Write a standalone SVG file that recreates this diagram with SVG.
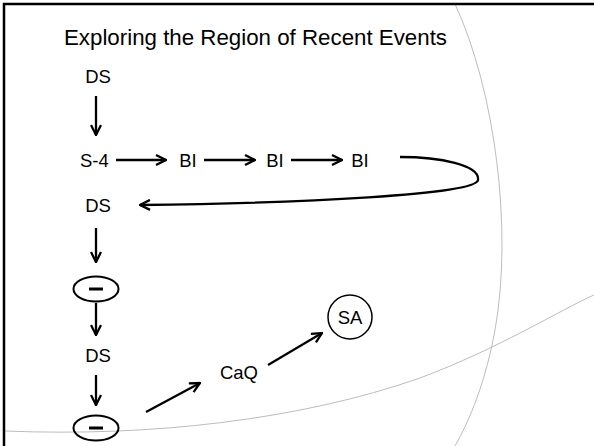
<svg xmlns="http://www.w3.org/2000/svg" width="594" height="446" viewBox="0 0 594 446">
<style>
.t{font-family:"Liberation Sans",Arial,sans-serif;fill:#000}
.n{font-size:18.5px}
.c{fill:none;stroke:#000;stroke-width:2.3}
.g{fill:none;stroke:#b4b4b4;stroke-width:0.9}
</style>
<defs>
<marker id="ah" viewBox="0 0 12 12" refX="11" refY="6" markerWidth="12" markerHeight="12" markerUnits="userSpaceOnUse" orient="auto">
<path d="M1,1 L11,6 L1,11" fill="none" stroke="#000" stroke-width="2.3"/>
</marker>
</defs>
<rect width="594" height="446" fill="#fff"/>
<g id="background">
<path class="g" d="M455,4 C495,90 513,230 495,330 C486,380 470,420 455,446"/>
<path class="g" d="M5,431 C150,437 300,420 420,378 C500,348 560,310 594,295"/>
<path d="M4,446 L4,4 L594,4" fill="none" stroke="#000" stroke-width="2.5"/>
</g>
<text class="t" x="64" y="45" font-size="22.3">Exploring the Region of Recent Events</text>
<g id="ds1"><text class="t n" x="98" y="83" text-anchor="middle">DS</text></g>
<g id="s4"><text class="t n" x="80" y="167">S-4</text></g>
<g id="bi1"><text class="t n" x="188" y="167" text-anchor="middle">BI</text></g>
<g id="bi2"><text class="t n" x="275" y="167" text-anchor="middle">BI</text></g>
<g id="bi3"><text class="t n" x="360" y="167" text-anchor="middle">BI</text></g>
<g id="ds2"><text class="t n" x="98" y="212" text-anchor="middle">DS</text></g>
<g id="neg1"><ellipse cx="96" cy="289" rx="22.5" ry="12.5" fill="none" stroke="#000" stroke-width="2"/><line x1="89" y1="289" x2="103" y2="289" stroke="#000" stroke-width="3"/></g>
<g id="ds3"><text class="t n" x="98" y="362" text-anchor="middle">DS</text></g>
<g id="neg2"><ellipse cx="96" cy="428" rx="22.5" ry="12.5" fill="none" stroke="#000" stroke-width="2"/><line x1="89" y1="428" x2="103" y2="428" stroke="#000" stroke-width="3"/></g>
<g id="caq"><text class="t n" x="239" y="379" text-anchor="middle">CaQ</text></g>
<g id="sa"><circle cx="350" cy="317" r="22" fill="none" stroke="#000" stroke-width="1.5"/><text class="t n" x="350" y="324" text-anchor="middle">SA</text></g>
<g id="connectors">
<line class="c" x1="96" y1="96" x2="96" y2="135" marker-end="url(#ah)"/>
<line class="c" x1="116" y1="160" x2="166" y2="160" marker-end="url(#ah)"/>
<line class="c" x1="204" y1="160" x2="255" y2="160" marker-end="url(#ah)"/>
<line class="c" x1="291" y1="160" x2="342" y2="160" marker-end="url(#ah)"/>
<path class="c" d="M400,157 C440,157 480,165 478,180 C476,195 300,203 140,205" marker-end="url(#ah)"/>
<line class="c" x1="96" y1="228" x2="96" y2="262" marker-end="url(#ah)"/>
<line class="c" x1="96" y1="303" x2="96" y2="335" marker-end="url(#ah)"/>
<line class="c" x1="96" y1="375" x2="96" y2="405" marker-end="url(#ah)"/>
<line class="c" x1="146" y1="412" x2="200" y2="383" marker-end="url(#ah)"/>
<line class="c" x1="268" y1="365" x2="322" y2="333" marker-end="url(#ah)"/>
</g>
</svg>
